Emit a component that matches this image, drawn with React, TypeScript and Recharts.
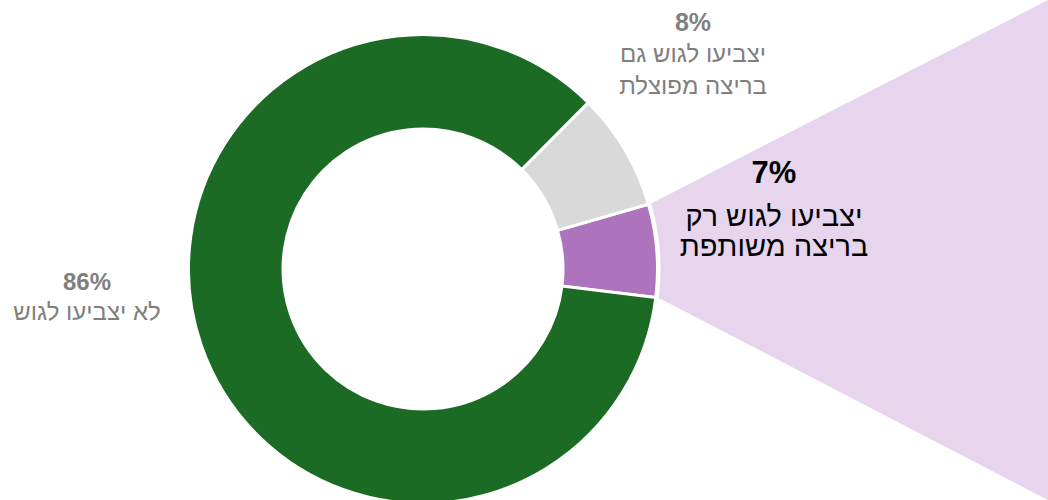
import React from 'react';
import { PieChart, Pie, Cell } from 'recharts';

const W = 1048;
const H = 500;

const categories = ['יצביעו לגוש רק בריצה משותפת', 'יצביעו לגוש גם בריצה מפוצלת', 'לא יצביעו לגוש'];
const values = [6.4, 8.1, 85.5];
const percentLabels = ['7%', '8%', '86%'];
const labelLines = [
  ['יצביעו לגוש רק', 'בריצה משותפת'],
  ['יצביעו לגוש גם', 'בריצה מפוצלת'],
  ['לא יצביעו לגוש'],
];
const colors = ['#ad74bd', '#d9d9d9', '#1c6b25'];
const wedgeColor = '#e6d5ec';

const labelStyles = [
  { x: 774, y: 183, pctSize: 31, lineSize: 29, gap: 43, lineGap: 30, color: '#000000' },
  { x: 693, y: 31, pctSize: 25, lineSize: 24, gap: 31, lineGap: 32, color: '#7f7f7f' },
  { x: 87, y: 290, pctSize: 24, lineSize: 24, gap: 30, lineGap: 30, color: '#7f7f7f' },
];

const data = categories.map((name, i) => ({ name, value: values[i] }));
const RADIAN = Math.PI / 180;
const FONT = '"Liberation Sans", Arial, sans-serif';

const renderLabel = (props: any) => {
  const { cx, cy, outerRadius, startAngle, endAngle, index } = props;
  const st = labelStyles[index];
  let wedge = null;
  if (index === 0) {
    const r = outerRadius + 3;
    const x1 = cx + r * Math.cos(-startAngle * RADIAN);
    const y1 = cy + r * Math.sin(-startAngle * RADIAN);
    const x2 = cx + r * Math.cos(-endAngle * RADIAN);
    const y2 = cy + r * Math.sin(-endAngle * RADIAN);
    wedge = (
      <path
        d={`M${x1},${y1} A${r},${r} 0 0 0 ${x2},${y2} L${W},0 L${W},${H} Z`}
        fill={wedgeColor}
        stroke="none"
      />
    );
  }
  return (
    <g key={`lbl-${index}`}>
      {wedge}
      <text
        x={st.x}
        y={st.y}
        textAnchor="middle"
        fill={st.color}
        fontSize={st.pctSize}
        fontWeight="bold"
        fontFamily={FONT}
      >
        {percentLabels[index]}
      </text>
      {labelLines[index].map((line, j) => (
        <text
          key={j}
          x={st.x}
          y={st.y + st.gap + j * st.lineGap}
          textAnchor="middle"
          fill={st.color}
          fontSize={st.lineSize}
          fontFamily={FONT}
        >
          {line}
        </text>
      ))}
    </g>
  );
};

export default function App() {
  return (
    <div style={{ position: 'absolute', left: 0, top: 0, width: W, height: H, background: '#fff' }}>
      <PieChart width={W} height={H} margin={{ top: 0, right: 0, bottom: 0, left: 0 }}>
        <Pie
          data={data}
          dataKey="value"
          nameKey="name"
          cx={423}
          cy={269}
          innerRadius={140}
          outerRadius={234.5}
          startAngle={-7}
          endAngle={353}
          stroke="#ffffff"
          strokeWidth={3}
          label={renderLabel}
          labelLine={false}
          isAnimationActive={false}
        >
          {data.map((d, i) => (
            <Cell key={d.name} fill={colors[i]} />
          ))}
        </Pie>
      </PieChart>
    </div>
  );
}
